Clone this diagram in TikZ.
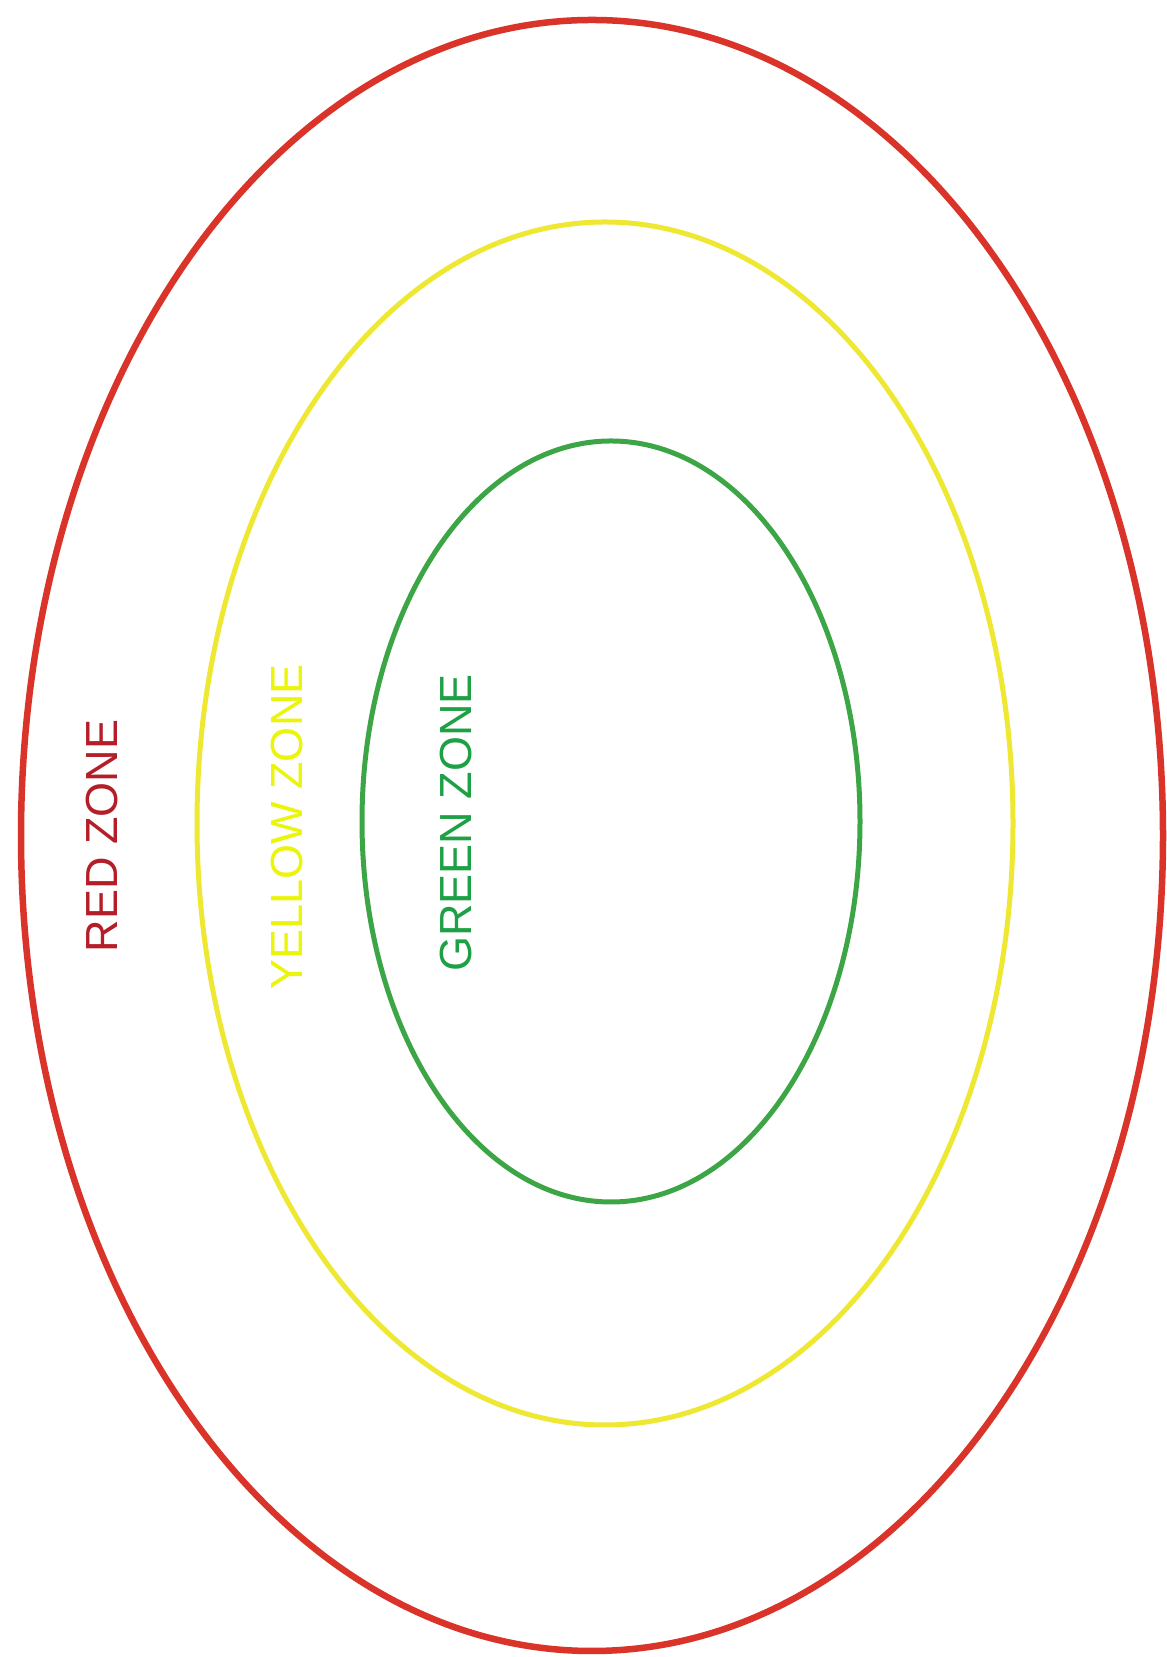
\documentclass[tikz,border=0pt]{standalone}
\usepackage{fontspec}
\setmainfont{Liberation Sans}
\definecolor{redline}{RGB}{218,52,42}
\definecolor{redtext}{RGB}{180,30,40}
\definecolor{yellowline}{RGB}{238,232,50}
\definecolor{yellowtext}{RGB}{235,245,10}
\definecolor{greenline}{RGB}{60,165,70}
\definecolor{greentext}{RGB}{30,160,70}
\begin{document}
\begin{tikzpicture}[x=1pt,y=1pt,
  zonelabel/.style={rotate=90,inner sep=0pt,font=\fontsize{45}{54}\selectfont}]
\useasboundingbox (0,0) rectangle (1167,1657);
\fill[white] (0,0) rectangle (1167,1657);
\draw[redline,line width=6.5pt] (592,{1657-835.5}) ellipse [x radius=571, y radius=815.5];
\draw[yellowline,line width=5pt] (605,{1657-823.5}) ellipse [x radius=408, y radius=601.5];
\draw[greenline,line width=5pt] (611,{1657-821.5}) ellipse [x radius=249, y radius=380.5];
\node[zonelabel,text=redtext] (redlabel) at (102,{1657-836}) {RED ZONE};
\node[zonelabel,text=yellowtext] (yellowlabel) at (287,{1657-827}) {YELLOW ZONE};
\node[zonelabel,text=greentext] (greenlabel) at (456,{1657-823}) {GREEN ZONE};
\end{tikzpicture}
\end{document}
